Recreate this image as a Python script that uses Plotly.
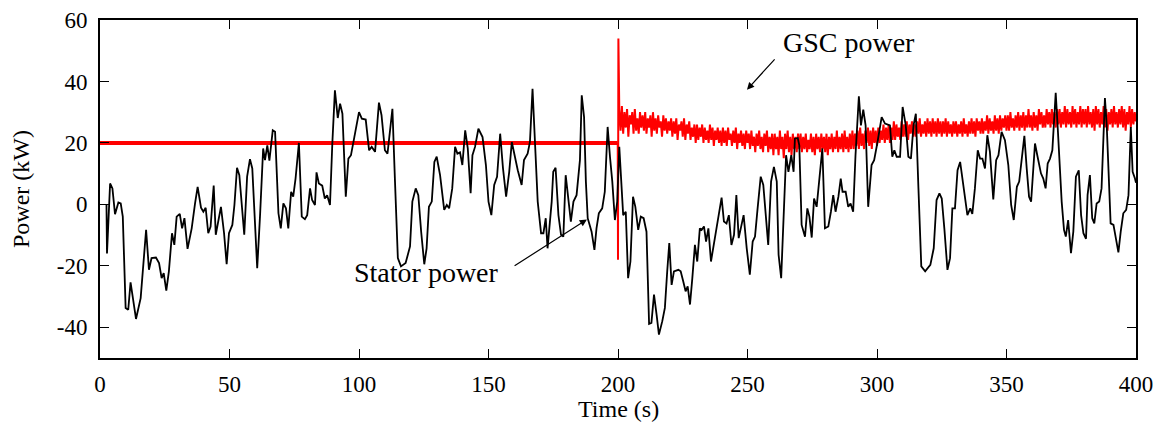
import numpy as np
import plotly.graph_objects as go

# ---------------- Data ----------------
stator_t = [2.5, 2.7, 3.9, 4.8, 5.8, 7.1, 8.0, 8.8, 9.9, 10.9, 11.8, 12.9, 13.9, 15.7, 17.0, 17.8, 18.9, 19.9,
            21.6, 22.8, 23.8, 24.6, 25.6, 26.6, 27.8, 28.7, 29.6, 30.8, 31.7, 32.6, 33.8, 35.4, 36.7, 37.7,
            39.0, 39.9, 40.8, 41.8, 42.7, 43.9, 44.7, 46.7, 47.9, 48.9, 49.8, 51.1, 51.9, 52.9, 53.8,
            55.7, 56.8, 57.9, 58.8, 59.8, 60.7, 61.8, 63.0, 63.7, 64.6, 65.4, 66.0, 66.7, 67.6, 68.9, 69.8,
            70.8, 71.8, 72.7, 73.8, 74.6, 75.5, 76.8, 77.9, 79.1, 80.0, 81.1, 81.9, 83.0, 83.6, 84.5, 85.8,
            86.8, 87.7, 88.8, 89.7, 90.7, 91.8, 92.7, 93.6, 94.9, 95.9, 96.9, 98.2, 100.0, 101.1, 102.6,
            103.9, 104.9,
            106.2, 107.7, 108.7, 110.0, 111.0, 112.9, 113.9, 115.0, 116.2, 118.0, 119.7, 120.6, 121.9, 122.9,
            124.0, 125.2, 126.1, 127.0, 128.1, 129.1, 130.0, 131.3, 132.9, 133.9, 134.8, 136.0, 137.1, 138.0,
            139.0, 139.9, 141.0, 142.0, 143.1, 143.8, 144.8, 146.1, 147.7, 149.0, 150.0, 151.1, 152.2, 153.3,
            154.5, 155.6, 156.8, 158.0, 159.0,
            160.2, 161.3, 162.8, 163.7, 165.1, 166.0, 167.0, 168.0, 169.0, 170.3, 171.2, 172.1, 172.8, 174.4,
            175.0, 175.9, 177.0, 178.0, 178.9, 179.8, 180.8, 181.8, 182.8, 184.0, 185.3, 186.0, 186.9, 187.6,
            188.3, 189.8, 190.9, 191.7, 192.6, 193.9, 194.9, 196.0, 196.9, 197.8, 198.8, 199.7, 200.5, 201.1,
            202.0, 203.0, 203.9, 204.8, 205.8, 206.7, 207.8, 208.8, 209.9, 211.0, 212.0, 212.9, 213.9, 214.9,
            215.8, 217.1, 218.1, 219.0, 219.8, 220.7, 221.6, 223.3, 224.2, 225.2, 226.1, 226.9, 227.8, 228.7,
            229.7, 230.6, 231.6, 232.3, 233.2, 234.0, 234.9, 235.9, 236.8, 238.1, 239.1, 240.0, 240.9, 241.9,
            242.8, 243.8, 244.8, 245.7, 246.6, 247.6, 248.5, 249.7, 250.9, 252.0, 252.9, 253.9, 255.1, 256.1,
            257.1, 258.0, 259.1, 260.2, 261.3, 262.0, 263.0, 263.9, 264.9, 265.8, 266.9, 267.8,
            268.3, 269.4, 270.0, 270.9, 272.2, 273.1, 273.9, 274.8, 275.7, 276.7, 277.7, 278.9, 279.9, 281.2,
            282.2, 283.1, 284.0, 285.1, 286.0, 286.7, 287.9, 288.9, 289.8, 290.8, 291.7, 293.0, 293.8, 294.7,
            295.6, 296.6, 297.9, 298.9, 300.2, 301.8, 303.1, 305.0, 305.9, 306.7, 307.6, 308.9, 309.9, 311.1,
            312.1, 313.1, 314.1, 315.0, 316.0, 317.1, 318.6, 320.6, 321.9,
            323.0, 324.1, 325.0, 326.0, 327.2, 328.2, 329.1, 330.1, 331.1, 332.1, 333.3, 334.9, 336.0, 336.8,
            337.8, 338.9, 339.8, 340.7, 341.7, 342.6, 343.6, 344.9, 346.0, 346.9, 348.1, 349.4, 350.7, 351.8,
            352.8, 354.0, 354.9, 355.9, 356.9, 357.8, 358.7, 359.5, 360.4, 361.0, 362.0, 363.3, 364.2, 365.1,
            365.9, 366.8, 367.7, 368.4, 369.0, 369.8, 370.7,
            371.3, 372.2, 372.9, 373.8, 374.9, 375.8, 376.8, 377.9, 378.8, 379.7, 380.7, 381.3, 382.2, 383.1,
            383.9, 384.8, 385.8, 386.7, 387.4, 388.0, 388.7, 389.6, 390.2, 391.3, 392.2, 393.2, 394.1, 395.1,
            396.2, 397.1, 398.0, 398.7, 399.6, 400.0]

stator_p = [0, -16, 6.8, 5.2, -3.2, 0.6, 0.3, -4, -33.7, -34.3, -25.4, -31.6, -37.3, -30.5, -15.4, -8.3, -21.3, -17.5,
            -17.3, -19.1, -24, -22.4, -28.1, -21.8, -9.4, -13.2, -4, -3.1, -7.8, -4.5, -14.5, -7.8, 0.3, 5.7,
            -1.1, -2.4, -1.1, -9.4, -7.2, 6.1, -9.9, -0.8, -9.4, -19.5, -9.4, -6.7, -0.2, 11.9, 9.5,
            -9.9, 9, 14.7, 11.7, -7.8, -20.8, -3.5, 18.2, 14.4, 19.2, 14.2, 18.2, 24.1, 23.6, -2.9, -7.8,
            0.3, -1.3, -7.8, 4.1, 2.5, 8.4, 20, -4, -4.8, -3.5, 5.2, 1.4, -0.2, 10.4, 6.8, 6.1,
            1.9, 3, -0.2, 19.8, 37.1, 28.1, 32.8, 29.5, 2.5, 14.9, 16, 21.9, 30, 27.9, 27.6,
            17.6, 18.7,
            17.1, 33.1, 29, 17.6, 16.5, 31.1, 7.4, -17.5, -20.2, -19.1, -13.7, 0.9, 5.2, 3,
            -8.9, -19.5, -14.3, -0.8, 0.9, 13.8, 15.5, 9.5, -1.8, -0.2, -1.3, 5.2, 18.7, 16.5,
            16.9, 12.8, 24.1, 18.2, 3.6, 16, 18.7, 24.6, 21.9, 12.8, 0.9, -3.5, 6.3, 9,
            23, 11.7, 2.5, 10.6, 20.3,
            15.5, 11.1, 6.3, 14.4, 16.5, 20.3, 37.6, 20.3, 0.9, -9.4, -9.4, -4.5, -14.3, 0.9,
            10.6, 11.9, -3.5, -9.9, -10.5, 9.5, 0.9, -5.6, 0.9, 3, 14.4, 35.5, 28.4, 7.4,
            -4.5, -8.9, -14.8, -7.8, -2.9, -1.3, 4.1, 25.2, 15.5, 7.4, -5.1, 0.9, 18.7, 9.5,
            -3.5, -2.4, -24, -18.6, 2.5, -0.8, -8.3, -4, -4.5, -8.9, -38.9, -38.6, -29.4, -35.9,
            -42.4, -38, -33.7, -21.8, -12.6, -26.2, -21.8, -21.3, -21.8, -25.1, -28.3, -26.7, -32.6, -24,
            -13.2, -18.6, -7.8, -8.3, -7.2, -12.1, -7.8, -18.6, -14.3, -6.7, -2.4, 2.2, -5.6, -6.2,
            -3.5, -13.2, -9.9, 3, -11, -6.7, -3.5, -14.3, -22.9, -12.1, -10.5, -1.3, 9, 6.3,
            -5.6, -13.2, 7.4, 12.2, 7.4, -16.4, -24, -3.5, 16, 10.6, 16, 10.6,
            21.4, 21.6, 19.2, -6.7, -10.5, -1.3, -4, -10.8, 1.9, -0.8, 7.9, 18.2, -7.8, -7.2,
            -2.4, 3, -2.4, 2.5, 8.4, 4.1, 4.1, -0.8, 0.3, -2.4, 16, 35.2, 25.7, 30.8,
            25.7, -0.8, 12.8, 14.4, 20.3, 28.4, 26.3, 25.7, 15.5, 17.6, 15.5, 15.5, 31.7, 25.7,
            15.5, 14.9, 25.7, 29.5, 5.2, -20.2, -21.8, -19.7, -14.3,
            1.4, 3.6, 1.9, -7.8, -21.3, -17.5, -1.3, -1.3, 11.1, 13.8, 6.3, -3.5, -1.3, -3.1,
            5.2, 17.6, 14.9, 14.9, 11.7, 22.5, 17.1, 1.6, 14.4, 16, 23.6, 20.9, 12.8, -0.2,
            -5.1, 5.7, 7.4, 16, 22.3, 11.7, 2.5, 0.9, 11.7, 19.8, 15.5, 10.1, 8.4, 5.2,
            13.3, 14.9, 17.6, 27.4, 36.3, 24.6, 10.6,
            0.9, -8.3, -10.5, -5.1, -15.9, -8.9, 9, 11.1, -3.5, -9.4, -11.2, 3, 9.5, -4.5,
            -6.2, 0.3, 0.9, 5.2, 18.7, 34.6, 25.7, 7.4, -6.2, -6.7, -10.5, -15.6, -8.9, -2.9,
            -1.8, 3, 25.2, 10.6, 8.4, 7]

# GSC power: constant before the event, transient at 200 s, then noisy band
gsc_pre_t = [0, 199.9]
gsc_pre_p = [20, 20]
gsc_spike_t = [199.9, 200.0, 200.15]
gsc_spike_p = [20, -18, 54]
gsc_post_p = [
    31, 24, 32, 23, 30, 25, 31, 22, 29, 26, 30, 23, 31, 24, 28, 23, 30, 25, 29, 24,
    30, 23, 28, 25, 29, 22, 30, 24, 28, 23, 29, 25, 27, 22, 29, 24, 28, 23, 27, 24,
    28, 22, 27, 23, 28, 21, 26, 24, 27, 22, 28, 21, 26, 23, 27, 21, 25, 22, 26, 20,
    26, 21, 25, 22, 26, 20, 25, 21, 24, 20, 26, 21, 25, 19, 24, 21, 25, 20, 24, 19,
    25, 20, 24, 19, 25, 21, 23, 19, 24, 20, 25, 18, 23, 20, 24, 19, 23, 18, 24, 20,
    23, 18, 24, 19, 22, 17, 23, 19, 24, 18, 22, 17, 23, 19, 24, 17, 22, 18, 23, 16,
    23, 18, 22, 16, 24, 18, 22, 15, 23, 18, 24, 17, 22, 16, 23, 18, 22, 17, 23, 18,
    23, 17, 22, 18, 23, 17, 21, 18, 23, 17, 22, 16, 23, 18, 22, 17, 23, 18, 22, 17,
    23, 16, 22, 18, 23, 17, 22, 18, 24, 17, 22, 18, 23, 17, 24, 18, 22, 17, 23, 18,
    24, 18, 23, 19, 24, 18, 25, 19, 23, 18, 24, 20, 25, 19, 24, 18, 25, 20, 24, 19,
    25, 20, 24, 21, 26, 20, 25, 21, 26, 20, 25, 21, 27, 21, 26, 22, 25, 21, 27, 22,
    26, 22, 27, 21, 26, 23, 27, 22, 26, 22, 27, 23, 28, 22, 26, 23, 27, 22, 28, 23,
    27, 22, 28, 23, 27, 22, 28, 23, 27, 22, 27, 23, 28, 22, 27, 23, 26, 22, 27, 23,
    27, 22, 26, 23, 27, 22, 28, 23, 26, 22, 27, 23, 28, 23, 27, 22, 28, 24, 27, 23,
    28, 23, 27, 24, 29, 23, 28, 24, 27, 23, 29, 24, 28, 23, 29, 24, 28, 25, 29, 24,
    29, 24, 30, 25, 28, 24, 29, 25, 30, 24, 29, 25, 30, 24, 29, 25, 31, 25, 29, 24,
    30, 25, 29, 24, 31, 26, 30, 25, 29, 25, 31, 26, 30, 25, 31, 26, 30, 25, 31, 26,
    31, 25, 30, 26, 32, 25, 31, 26, 30, 25, 32, 26, 31, 25, 30, 26, 32, 25, 31, 26,
    31, 25, 32, 26, 30, 25, 31, 24, 32, 26, 31, 25, 30, 26, 32, 25, 31, 24, 30, 26,
    31, 25, 32, 26, 30, 25, 31, 26, 32, 25, 31, 24, 30, 26, 32, 25, 31, 26, 30, 27]
gsc_post_t = list(np.arange(200.5, 400.001, 0.5))

x_ticks = [0, 50, 100, 150, 200, 250, 300, 350, 400]
y_ticks = [-40, -20, 0, 20, 40, 60]

FONT = "'Liberation Serif', 'Times New Roman', Times, serif"

fig = go.Figure()
fig.add_trace(go.Scatter(x=gsc_pre_t, y=gsc_pre_p, mode="lines",
                         line=dict(color="#ff0000", width=4), showlegend=False, hoverinfo="skip"))
fig.add_trace(go.Scatter(x=gsc_spike_t + gsc_post_t, y=gsc_spike_p + gsc_post_p, mode="lines",
                         line=dict(color="#ff0000", width=2), showlegend=False, hoverinfo="skip"))
fig.add_trace(go.Scatter(x=stator_t, y=stator_p, mode="lines",
                         line=dict(color="black", width=1.8), showlegend=False, hoverinfo="skip"))

axis_common = dict(showgrid=False, zeroline=False, showline=True, linecolor="black", linewidth=2,
                   mirror="ticks", ticks="inside", ticklen=9, tickwidth=1.2, tickcolor="black",
                   automargin=False,
                   tickfont=dict(family=FONT, size=23, color="black"))

fig.update_xaxes(range=[0, 400], tickvals=x_ticks, ticktext=[str(v) for v in x_ticks],
                 ticklabelstandoff=4, **axis_common)
fig.update_yaxes(range=[-50, 60], tickvals=y_ticks, ticktext=[str(v) for v in y_ticks],
                 ticklabelstandoff=6, **axis_common)

fig.add_annotation(text="Time (s)", xref="paper", yref="paper", x=0.5, y=0, yshift=-51,
                   showarrow=False, font=dict(family=FONT, size=24, color="black"),
                   xanchor="center", yanchor="middle")
fig.add_annotation(text="Power (kW)", xref="paper", yref="paper", x=0, y=0.5, xshift=-79,
                   textangle=-90, showarrow=False, font=dict(family=FONT, size=24, color="black"),
                   xanchor="center", yanchor="middle")

# Labels
fig.add_annotation(text="GSC power", x=289, y=52.6, xref="x", yref="y", showarrow=False,
                   font=dict(family=FONT, size=28, color="black"), xanchor="center", yanchor="middle")
fig.add_annotation(text="Stator power", x=126, y=-22.2, xref="x", yref="y", showarrow=False,
                   font=dict(family=FONT, size=28, color="black"), xanchor="center", yanchor="middle")
# Arrows
fig.add_annotation(text="", x=249.8, y=37.3, ax=261, ay=47.7, xref="x", yref="y", axref="x", ayref="y",
                   showarrow=True, arrowhead=2, arrowsize=1.2, arrowwidth=1.2, arrowcolor="black")
fig.add_annotation(text="", x=188, y=-4.9, ax=159.5, ay=-20.3, xref="x", yref="y", axref="x", ayref="y",
                   showarrow=True, arrowhead=2, arrowsize=1.2, arrowwidth=1.2, arrowcolor="black")

# page has an 8px body margin: shrink the figure so it fits the window and place the plot area
fig.update_layout(width=1150, height=419, margin=dict(l=92, r=22, t=12, b=69),
                  plot_bgcolor="white", paper_bgcolor="white")

fig.write_html("out.html")
